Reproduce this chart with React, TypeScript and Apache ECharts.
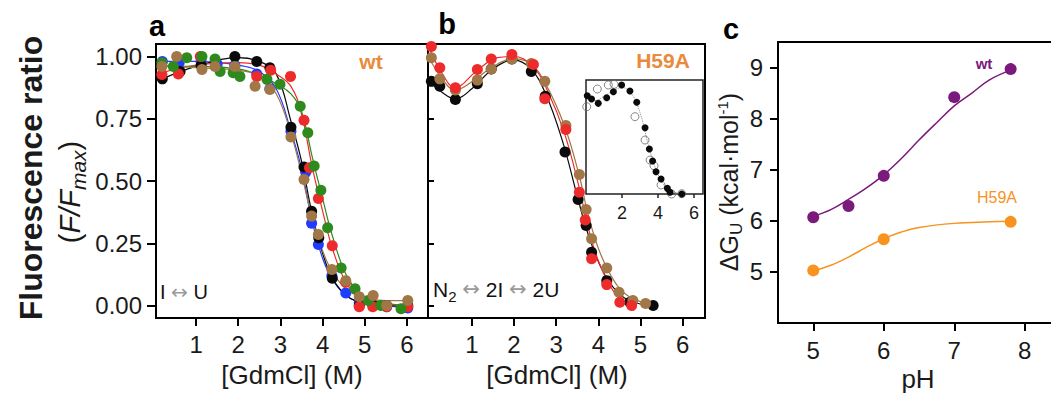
import React, { useEffect, useRef } from "react";
import * as echarts from "echarts";

const FONT = "'Liberation Sans', Arial, Helvetica, sans-serif";

// ---------- tick values ----------
const xTicksAB = [1, 2, 3, 4, 5, 6];
const yTicksAB = [0, 0.25, 0.5, 0.75, 1.0];
const xTicksInset = [2, 4, 6];
const xTicksC = [5, 6, 7, 8];
const yTicksC = [5, 6, 7, 8, 9];

// ---------- panel a (wt): [GdmCl] (M), F/Fmax ----------
const aBlack = [[0.2, 0.91], [0.62, 0.94], [1.12, 0.965], [1.92, 1.0], [2.44, 0.98], [2.75, 0.955], [3.25, 0.716], [3.56, 0.556], [3.74, 0.379], [3.91, 0.272], [4.23, 0.11], [4.87, 0.0], [5.2, 0.0], [5.52, 0.0], [6.02, 0.0]];
const aBlue = [[0.2, 0.98], [0.6, 0.975], [1.12, 0.98], [1.5, 0.97], [1.92, 0.965], [2.44, 0.93], [2.75, 0.87], [3.25, 0.7], [3.6, 0.535], [3.74, 0.33], [3.9, 0.245], [4.22, 0.12], [4.55, 0.05], [4.87, 0.01], [5.2, 0.0], [5.52, -0.005], [6.02, -0.01]];
const aRed = [[0.19, 0.928], [0.58, 0.93], [1.1, 1.0], [2.44, 0.92], [2.77, 0.945], [3.24, 0.92], [3.56, 0.744], [3.69, 0.553], [3.9, 0.43], [4.23, 0.24], [4.55, 0.094], [4.87, -0.005], [5.19, -0.005], [5.52, -0.005], [6.02, -0.005]];
const aGreen = [[0.19, 0.975], [0.46, 0.96], [0.78, 0.995], [1.14, 1.0], [1.45, 0.99], [1.57, 0.94], [1.88, 0.935], [2.04, 0.92], [2.68, 0.908], [2.99, 0.888], [3.47, 0.8], [3.65, 0.694], [3.8, 0.56], [3.96, 0.463], [4.12, 0.312], [4.44, 0.151], [4.77, 0.067], [5.08, 0.02], [5.38, 0.0], [5.86, -0.013]];
const aBrown = [[0.19, 0.96], [0.54, 1.0], [1.14, 0.948], [1.45, 0.96], [1.92, 0.96], [2.4, 0.88], [2.75, 0.867], [3.25, 0.677], [3.56, 0.506], [3.74, 0.359], [3.9, 0.285], [4.22, 0.145], [4.55, 0.1], [4.87, 0.035], [5.2, 0.04], [5.52, 0.0], [6.02, 0.02]];

// fitted curves
const aBlackFit = [[0.2, 0.91], [1.0, 0.96], [2.0, 0.995], [2.5, 0.98], [2.9, 0.93], [3.25, 0.74], [3.5, 0.58], [3.75, 0.37], [4.0, 0.21], [4.25, 0.105], [4.6, 0.035], [5.0, 0.008], [5.5, 0.0], [6.0, 0.0]];
const aBlueFit = [[0.2, 0.98], [1.0, 0.98], [2.0, 0.965], [2.5, 0.94], [2.9, 0.87], [3.25, 0.7], [3.5, 0.55], [3.75, 0.34], [4.0, 0.19], [4.25, 0.1], [4.6, 0.035], [5.0, 0.01], [5.5, 0.0], [6.0, -0.01]];
const aRedFit = [[0.2, 0.935], [1.0, 0.965], [2.0, 0.975], [2.5, 0.965], [2.9, 0.93], [3.25, 0.88], [3.5, 0.77], [3.75, 0.56], [4.0, 0.38], [4.25, 0.22], [4.6, 0.08], [5.0, 0.02], [5.5, 0.005], [6.0, 0.0]];
const aGreenFit = [[0.2, 0.96], [1.0, 0.96], [2.0, 0.95], [2.5, 0.925], [2.9, 0.89], [3.25, 0.85], [3.5, 0.78], [3.75, 0.6], [4.0, 0.43], [4.25, 0.27], [4.6, 0.11], [5.0, 0.035], [5.5, 0.01], [6.0, 0.0]];
const aBrownFit = [[0.2, 0.965], [1.0, 0.955], [2.0, 0.945], [2.5, 0.92], [2.9, 0.85], [3.25, 0.69], [3.5, 0.53], [3.75, 0.35], [4.0, 0.22], [4.25, 0.13], [4.6, 0.06], [5.0, 0.03], [5.5, 0.02], [6.0, 0.02]];

// ---------- panel b (H59A) ----------
const bBlack = [[0.04, 0.9], [0.24, 0.88], [0.61, 0.827], [1.13, 0.89], [1.46, 0.95], [1.95, 0.99], [2.41, 0.94], [2.74, 0.84], [3.21, 0.616], [3.52, 0.426], [3.71, 0.321], [3.84, 0.214], [4.2, 0.1], [4.75, 0.013], [5.3, 0.0]];
const bBrown = [[0.04, 0.995], [0.24, 0.91], [0.61, 0.865], [1.13, 0.905], [1.46, 0.95], [1.95, 0.99], [2.41, 0.972], [2.73, 0.9], [3.23, 0.723], [3.55, 0.526], [3.71, 0.386], [3.84, 0.268], [4.2, 0.151], [4.49, 0.053], [4.82, 0.02], [5.12, 0.008]];
const bRed = [[0.04, 1.04], [0.24, 0.955], [0.61, 0.874], [1.13, 0.948], [1.46, 0.99], [1.95, 1.008], [2.46, 0.968], [2.73, 0.83], [3.23, 0.707], [3.55, 0.455], [3.69, 0.343], [3.84, 0.188], [4.2, 0.084], [4.51, 0.013], [4.79, 0.0]];

const bBlackFit = [[0.0, 0.9], [0.3, 0.855], [0.6, 0.83], [1.0, 0.87], [1.5, 0.95], [2.0, 0.985], [2.4, 0.95], [2.75, 0.85], [3.15, 0.66], [3.5, 0.44], [3.75, 0.29], [4.1, 0.14], [4.45, 0.055], [4.8, 0.015], [5.3, 0.0]];
const bBrownFit = [[0.0, 0.99], [0.3, 0.91], [0.6, 0.865], [1.1, 0.91], [1.5, 0.96], [2.0, 0.99], [2.4, 0.97], [2.75, 0.89], [3.2, 0.72], [3.55, 0.52], [3.75, 0.37], [4.0, 0.23], [4.3, 0.12], [4.65, 0.045], [5.1, 0.01]];
const bRedFit = [[0.0, 1.03], [0.3, 0.93], [0.6, 0.875], [1.1, 0.94], [1.6, 0.995], [2.0, 1.0], [2.45, 0.96], [2.8, 0.86], [3.2, 0.69], [3.55, 0.47], [3.75, 0.32], [4.0, 0.18], [4.35, 0.06], [4.7, 0.0], [4.85, -0.02]];

// ---------- inset of panel b ----------
const insetFilled = [[0.07, 0.905], [0.31, 0.875], [0.68, 0.835], [1.15, 0.887], [1.52, 0.942], [1.98, 1.004], [2.44, 0.949], [2.82, 0.845], [3.28, 0.611], [3.52, 0.414], [3.7, 0.304], [3.89, 0.205], [4.17, 0.138], [4.52, 0.052], [4.67, 0.016], [5.32, 0.0]];
const insetOpen = [[0.04, 0.804], [0.63, 0.967], [1.24, 1.004], [1.56, 1.01], [2.72, 0.712], [3.28, 0.497], [3.56, 0.313], [3.78, 0.26], [4.17, 0.083], [4.76, 0.0], [5.32, 0.003]];
const insetFit = [[0.0, 0.9], [0.5, 0.86], [1.0, 0.9], [1.5, 0.95], [2.0, 0.98], [2.5, 0.93], [3.0, 0.75], [3.5, 0.43], [4.0, 0.18], [4.5, 0.05], [5.0, 0.01], [5.3, 0.0]];

// ---------- panel c: ΔG_U vs pH ----------
const cWt = [[5.0, 6.07], [5.5, 6.29], [6.0, 6.88], [7.0, 8.42], [7.8, 8.97]];
const cH59A = [[5.0, 5.03], [6.0, 5.64], [7.8, 5.98]];
const cWtFit = [[5.0, 6.09], [5.25, 6.22], [5.5, 6.42], [5.75, 6.64], [6.0, 6.9], [6.25, 7.22], [6.5, 7.58], [6.75, 7.92], [7.0, 8.25], [7.25, 8.5], [7.5, 8.76], [7.8, 8.95]];
const cH59AFit = [[5.0, 5.02], [5.25, 5.13], [5.5, 5.29], [5.75, 5.48], [6.0, 5.65], [6.25, 5.78], [6.5, 5.87], [7.0, 5.95], [7.5, 5.98], [7.8, 5.99]];

const C_BLACK = "#0a0a0a";
const C_BLUE = "#1f3cff";
const C_RED = "#ee2b2b";
const C_GREEN = "#2f8a1e";
const C_BROWN = "#a27747";
const C_PURPLE = "#7a1a7c";
const C_ORANGE = "#f7931e";
const C_LABEL = "#e98a3c";

function pts(data: number[][], color: string, idx: number, size = 11, z = 3): any {
  return {
    type: "scatter",
    xAxisIndex: idx,
    yAxisIndex: idx,
    data,
    symbol: "circle",
    symbolSize: size,
    itemStyle: { color, opacity: 1 },
    clip: false,
    silent: true,
    z,
  };
}

function fit(data: number[][], color: string, idx: number, width = 1.2, type = "solid"): any {
  return {
    type: "line",
    xAxisIndex: idx,
    yAxisIndex: idx,
    data,
    smooth: 0.4,
    showSymbol: false,
    symbol: "none",
    lineStyle: { color, width, type },
    silent: true,
    z: 2,
  };
}

const tickStyle = { color: "#000", width: 2 };
const labelBase = { color: "#1a1a1a", fontFamily: FONT, fontSize: 24 };
const gridBase = { show: true, borderColor: "#000", borderWidth: 2, backgroundColor: "transparent", containLabel: false, outerBoundsMode: "none" };

function App() {
  const ref = useRef<HTMLDivElement>(null);

  useEffect(() => {
    if (!ref.current) return;
    const chart = echarts.init(ref.current, undefined, { renderer: "svg" });

    const option: any = {
      animation: false,
      backgroundColor: "#ffffff",
      textStyle: { fontFamily: FONT },
      grid: [
        { ...gridBase, left: 156, top: 44, width: 272, height: 274 },
        { ...gridBase, left: 428, top: 44, width: 277, height: 274 },
        { ...gridBase, left: 586, top: 80, width: 117, height: 114, borderColor: "#222", borderWidth: 1.5, backgroundColor: "#ffffff", z: 5 },
        { ...gridBase, left: 778, top: 42, width: 282, height: 281 },
      ],
      xAxis: [
        {
          gridIndex: 0, type: "value", min: 0.05, max: 6.5,
          axisLine: { show: false, onZero: false }, splitLine: { show: false },
          axisTick: { show: true, customValues: xTicksAB, length: 8, lineStyle: tickStyle },
          axisLabel: { ...labelBase, customValues: xTicksAB, margin: 14 },
        },
        {
          gridIndex: 1, type: "value", min: -0.04, max: 6.53,
          axisLine: { show: false, onZero: false }, splitLine: { show: false },
          axisTick: { show: true, customValues: xTicksAB, length: 8, lineStyle: tickStyle },
          axisLabel: { ...labelBase, customValues: xTicksAB, margin: 14 },
        },
        {
          gridIndex: 2, type: "value", min: 0, max: 6.5, z: 6,
          axisLine: { show: false, onZero: false }, splitLine: { show: false },
          axisTick: { show: true, customValues: xTicksInset, length: 4, lineStyle: { color: "#222", width: 1.5 } },
          axisLabel: { ...labelBase, fontSize: 18, customValues: xTicksInset, margin: 10 },
        },
        {
          gridIndex: 3, type: "value", min: 4.5, max: 8.5,
          axisLine: { show: false, onZero: false }, splitLine: { show: false },
          axisTick: { show: true, customValues: xTicksC, length: 8, lineStyle: tickStyle },
          axisLabel: { ...labelBase, customValues: xTicksC, margin: 15 },
        },
      ],
      yAxis: [
        {
          gridIndex: 0, type: "value", min: -0.05, max: 1.05,
          axisLine: { show: false, onZero: false }, splitLine: { show: false },
          axisTick: { show: true, customValues: yTicksAB, length: 9, lineStyle: tickStyle },
          axisLabel: { ...labelBase, customValues: yTicksAB, margin: 14, formatter: (v: number) => v.toFixed(2) },
        },
        {
          gridIndex: 1, type: "value", min: -0.05, max: 1.05,
          axisLine: { show: false, onZero: false }, splitLine: { show: false },
          axisTick: { show: true, inside: true, customValues: yTicksAB, length: 6, lineStyle: tickStyle },
          axisLabel: { show: false },
        },
        {
          gridIndex: 2, type: "value", min: 0, max: 1.05, z: 6,
          axisLine: { show: false, onZero: false }, splitLine: { show: false },
          axisTick: { show: false }, axisLabel: { show: false },
        },
        {
          gridIndex: 3, type: "value", min: 4.0, max: 9.5,
          axisLine: { show: false, onZero: false }, splitLine: { show: false },
          axisTick: { show: true, customValues: yTicksC, length: 8, lineStyle: tickStyle },
          axisLabel: { ...labelBase, customValues: yTicksC, margin: 15 },
        },
      ],
      series: [
        // panel a fits
        fit(aBlueFit, C_BLUE, 0),
        fit(aBlackFit, C_BLACK, 0),
        fit(aRedFit, C_RED, 0),
        fit(aGreenFit, C_GREEN, 0),
        fit(aBrownFit, C_BROWN, 0),
        // panel a points
        pts(aBlue, C_BLUE, 0),
        pts(aBlack, C_BLACK, 0),
        pts(aRed, C_RED, 0),
        pts(aGreen, C_GREEN, 0),
        pts(aBrown, C_BROWN, 0),
        // panel b
        fit(bBlackFit, C_BLACK, 1),
        fit(bBrownFit, C_BROWN, 1),
        fit(bRedFit, C_RED, 1),
        pts(bBlack, C_BLACK, 1),
        pts(bBrown, C_BROWN, 1),
        pts(bRed, C_RED, 1),
        // inset
        { ...fit(insetFit, "#8a8a8a", 2, 1, "dotted"), z: 7 },
        {
          type: "scatter", xAxisIndex: 2, yAxisIndex: 2, data: insetOpen,
          symbol: "circle", symbolSize: 8, clip: false, silent: true, z: 7,
          itemStyle: { color: "rgba(255,255,255,0)", borderColor: "#6a6a6a", borderWidth: 1 },
        },
        { ...pts(insetFilled, C_BLACK, 2, 7), z: 8 },
        // panel c
        fit(cWtFit, C_PURPLE, 3, 1.5),
        fit(cH59AFit, C_ORANGE, 3, 1.5),
        pts(cWt, C_PURPLE, 3, 12),
        pts(cH59A, C_ORANGE, 3, 12),
      ],
      graphic: {
        elements: [
          // panel letters
          { type: "text", x: 157, y: 26, style: { text: "a", fill: "#000", font: `bold 29px ${FONT}`, align: "center", verticalAlign: "middle" } },
          { type: "text", x: 447, y: 24, style: { text: "b", fill: "#000", font: `bold 29px ${FONT}`, align: "center", verticalAlign: "middle" } },
          { type: "text", x: 731, y: 29, style: { text: "c", fill: "#000", font: `bold 29px ${FONT}`, align: "center", verticalAlign: "middle" } },
          // in-panel labels
          { type: "text", x: 371, y: 61, style: { text: "wt", fill: C_LABEL, font: `bold 21px ${FONT}`, align: "center", verticalAlign: "middle" } },
          { type: "text", x: 663, y: 60, style: { text: "H59A", fill: C_LABEL, font: `bold 21px ${FONT}`, align: "center", verticalAlign: "middle" } },
          { type: "text", x: 984, y: 63, style: { text: "wt", fill: C_PURPLE, font: `bold 15px ${FONT}`, align: "center", verticalAlign: "middle" } },
          { type: "text", x: 997, y: 197, style: { text: "H59A", fill: C_ORANGE, font: `16px ${FONT}`, align: "center", verticalAlign: "middle" } },
          {
            type: "text", x: 160, y: 292,
            style: {
              text: "{n|I }{ar|↔}{n| U}", align: "left", verticalAlign: "middle",
              rich: {
                n: { fontSize: 20, fontFamily: FONT, fill: "#111" },
                ar: { fontSize: 20, fontFamily: "'DejaVu Sans', sans-serif", fill: "#9a9a9a" },
              },
            },
          },
          {
            type: "text", x: 433, y: 289,
            style: {
              text: "{n|N}{s|2}{n| }{ar|↔}{n| 2I }{ar|↔}{n| 2U}", align: "left", verticalAlign: "middle",
              rich: {
                n: { fontSize: 21, fontFamily: FONT, fill: "#111" },
                s: { fontSize: 15, fontFamily: FONT, fill: "#111", padding: [14, 0, 0, 0] },
                ar: { fontSize: 21, fontFamily: "'DejaVu Sans', sans-serif", fill: "#9a9a9a" },
              },
            },
          },
          // axis titles
          { type: "text", x: 292, y: 375, style: { text: "[GdmCl] (M)", fill: "#1a1a1a", font: `26px ${FONT}`, align: "center", verticalAlign: "middle" } },
          { type: "text", x: 557, y: 375, style: { text: "[GdmCl] (M)", fill: "#1a1a1a", font: `26px ${FONT}`, align: "center", verticalAlign: "middle" } },
          { type: "text", x: 918, y: 379, style: { text: "pH", fill: "#1a1a1a", font: `26px ${FONT}`, align: "center", verticalAlign: "middle" } },
          {
            type: "text", x: 31, y: 178, rotation: Math.PI / 2,
            style: { text: "Fluorescence ratio", fill: "#1a1a1a", font: `bold 32px ${FONT}`, align: "center", verticalAlign: "middle" },
          },
          {
            type: "text", x: 70, y: 192, rotation: Math.PI / 2,
            style: {
              text: "{n|(}{i|F/F}{sub|max}{n|)}", align: "center", verticalAlign: "middle",
              rich: {
                n: { fontSize: 29, fontFamily: FONT, fill: "#1a1a1a" },
                i: { fontSize: 29, fontFamily: FONT, fontStyle: "italic", fill: "#1a1a1a" },
                sub: { fontSize: 21, fontFamily: FONT, fontStyle: "italic", fill: "#1a1a1a", padding: [16, 0, 0, 0] },
              },
            },
          },
          {
            type: "text", x: 729, y: 182, rotation: Math.PI / 2,
            style: {
              text: "{n|ΔG}{sub|U}{n| (kcal·mol}{sup|-1}{n|)}", align: "center", verticalAlign: "middle",
              rich: {
                n: { fontSize: 25, fontFamily: FONT, fill: "#1a1a1a" },
                sub: { fontSize: 17, fontFamily: FONT, fill: "#1a1a1a", padding: [14, 0, 0, 0] },
                sup: { fontSize: 15, fontFamily: FONT, fill: "#1a1a1a", padding: [0, 0, 14, 0] },
              },
            },
          },
        ],
      },
    };

    chart.setOption(option);
    return () => {
      chart.dispose();
    };
  }, []);

  return (
    <div
      ref={ref}
      style={{ position: "absolute", left: 0, top: 0, width: 1051, height: 395, background: "#fff" }}
    />
  );
}

export default App;
